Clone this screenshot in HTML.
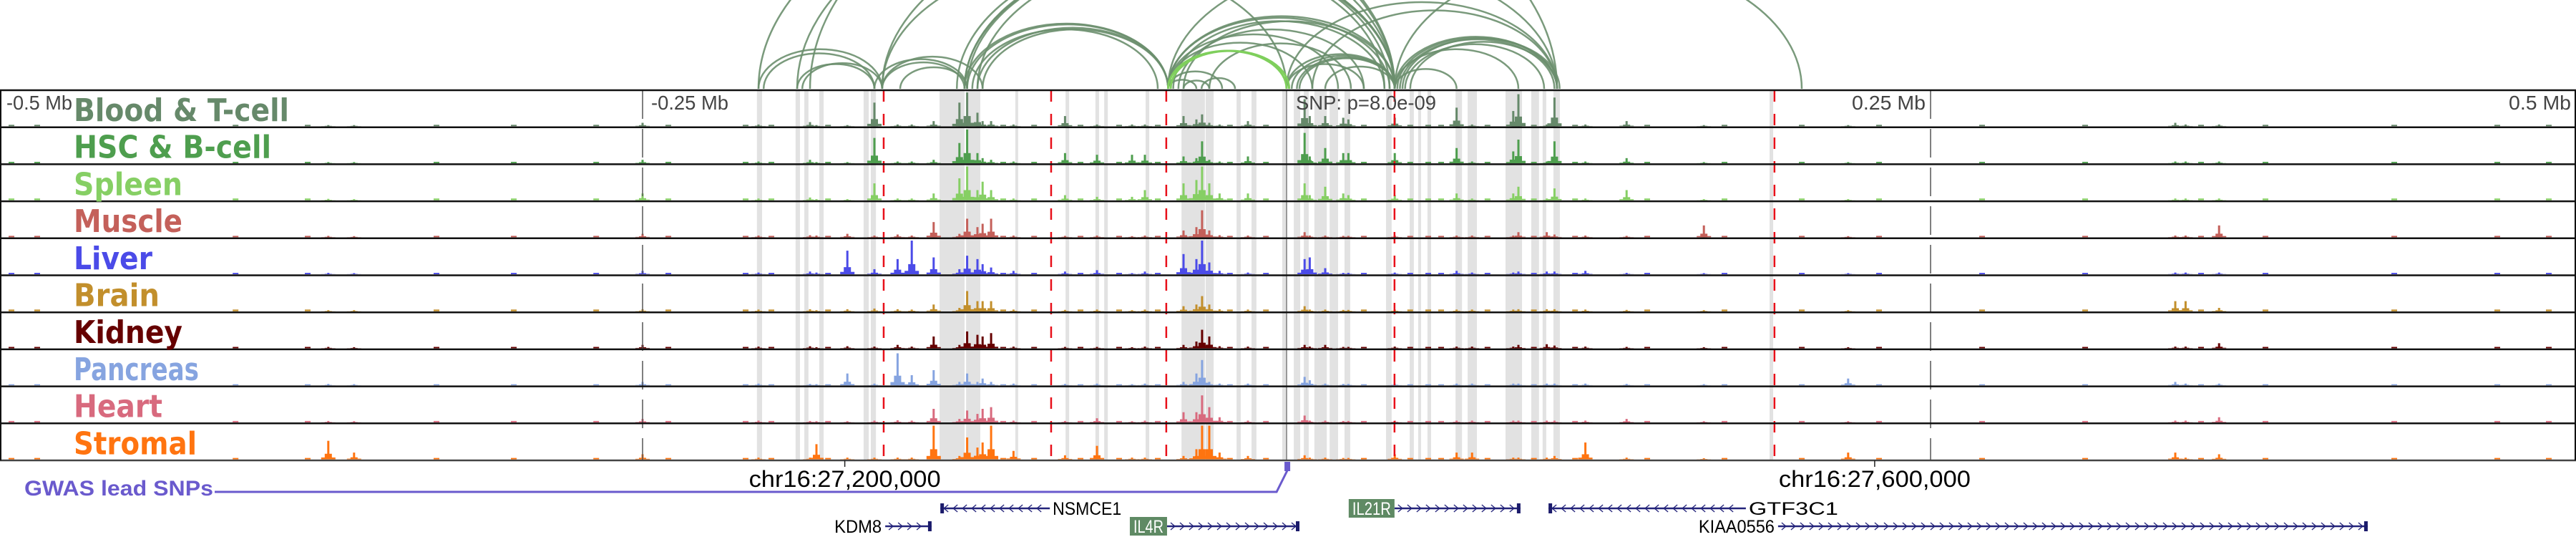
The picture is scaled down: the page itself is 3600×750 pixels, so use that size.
<!DOCTYPE html>
<html><head><meta charset="utf-8"><style>
html,body{margin:0;padding:0;background:#fff;}
svg{display:block;}
text{font-family:"Liberation Sans","DejaVu Sans",sans-serif;}
</style></head><body>
<svg id="chart" width="3600" height="750" viewBox="0 0 3600 750" xmlns="http://www.w3.org/2000/svg">
<defs><clipPath id="arcclip"><rect x="0" y="0" width="3600" height="125"/></clipPath></defs>
<g id="arcs" clip-path="url(#arcclip)"></g>
<g id="bands"></g>
<g id="signals"></g>
<g id="frame"></g>
<g id="labels"></g>
<g id="axis"></g>
<g id="genes"></g>
</svg>
<script>
const trackNames=["Blood & T-cell","HSC & B-cell","Spleen","Muscle","Liver","Brain","Kidney","Pancreas","Heart","Stromal"];
const trackColors=["#66896a","#4e9e4e","#86cf64","#c4605a","#4b4be8","#c28f2c","#660000","#86a4e0","#d86a7e","#ff7410"];
const labelWidths=[301,276,152,152,110,120,152,175,124,172];
const peakPos=[-372,-362,-250,-205,-185,-182.5,-170.5,-160,-151,-145.5,-137,-127,-124,-120,-118,-114.7,-106,-86,-73.6,-60,-55,-40,-35,-32.8,-30,-26,-15,7,9,15,22,24,42,66,72,88,90,101,104,116,132,162,218,345,349,362];
const peakVals=[
[0.02,0.02,0.04,0.04,0.04,0.03,0.04,0.04,0.04,0.55],
[0.03,0.03,0.03,0.03,0.03,0.03,0.03,0.03,0.03,0.2],
[0.1,0.1,0.2,0.1,0.1,0.06,0.1,0.1,0.1,0.15],
[0.05,0.05,0.05,0.05,0.05,0.05,0.05,0.05,0.05,0.05],
[0.12,0.1,0.08,0.06,0.08,0.06,0.06,0.04,0.04,0.05],
[0.03,0.03,0.03,0.05,0.05,0.03,0.03,0.03,0.03,0.45],
[0.03,0.03,0.03,0.1,0.7,0.06,0.06,0.35,0.03,0.05],
[0.7,0.75,0.5,0.05,0.15,0.08,0.05,0.05,0.05,0.05],
[0.05,0.05,0.05,0.08,0.45,0.06,0.1,0.95,0.06,0.05],
[0.05,0.05,0.05,0.05,1.0,0.05,0.05,0.3,0.05,0.05],
[0.15,0.1,0.2,0.45,0.5,0.2,0.35,0.45,0.4,1.0],
[0.7,0.6,0.65,0.1,0.15,0.1,0.1,0.1,0.1,0.1],
[1.0,1.0,1.0,0.55,0.55,0.6,0.5,0.35,0.35,0.65],
[0.4,0.3,0.3,0.3,0.45,0.3,0.4,0.1,0.25,0.35],
[0.15,0.15,0.55,0.4,0.3,0.3,0.35,0.2,0.4,0.5],
[0.15,0.1,0.3,0.55,0.2,0.3,0.45,0.1,0.45,1.0],
[0.05,0.05,0.05,0.05,0.1,0.05,0.05,0.05,0.05,0.25],
[0.3,0.3,0.15,0.04,0.08,0.04,0.04,0.04,0.04,0.12],
[0.05,0.25,0.1,0.05,0.12,0.05,0.04,0.05,0.12,0.4],
[0.05,0.25,0.1,0.03,0.03,0.03,0.03,0.03,0.03,0.05],
[0.05,0.25,0.3,0.05,0.08,0.05,0.05,0.05,0.05,0.05],
[0.3,0.2,0.5,0.2,0.6,0.15,0.1,0.1,0.3,0.1],
[0.2,0.15,0.6,0.3,0.45,0.2,0.2,0.35,0.3,0.3],
[0.35,0.65,1.0,0.8,1.0,0.45,0.55,0.75,0.8,1.0],
[0.1,0.1,0.5,0.2,0.35,0.2,0.35,0.1,0.45,1.0],
[0.05,0.05,0.2,0.06,0.1,0.06,0.06,0.05,0.15,0.2],
[0.15,0.2,0.2,0.05,0.05,0.05,0.05,0.05,0.05,0.1],
[0.8,0.9,0.5,0.15,0.45,0.15,0.1,0.25,0.2,0.12],
[0.3,0.2,0.15,0.05,0.5,0.05,0.05,0.15,0.05,0.05],
[0.3,0.45,0.4,0.05,0.18,0.05,0.1,0.05,0.05,0.05],
[0.25,0.3,0.2,0.04,0.04,0.04,0.04,0.04,0.04,0.04],
[0.2,0.3,0.15,0.04,0.04,0.04,0.04,0.04,0.04,0.04],
[0.25,0.3,0.15,0.05,0.05,0.05,0.05,0.05,0.05,0.15],
[0.55,0.45,0.2,0.05,0.1,0.05,0.05,0.05,0.05,0.2],
[0.05,0.05,0.05,0.05,0.05,0.05,0.05,0.05,0.05,0.2],
[0.45,0.35,0.2,0.05,0.05,0.05,0.05,0.05,0.05,0.05],
[0.95,0.7,0.4,0.15,0.08,0.06,0.1,0.05,0.05,0.05],
[0.05,0.05,0.05,0.15,0.08,0.06,0.12,0.05,0.05,0.05],
[0.85,0.65,0.35,0.08,0.08,0.06,0.08,0.05,0.05,0.1],
[0.05,0.05,0.05,0.05,0.1,0.05,0.05,0.05,0.05,0.5],
[0.15,0.15,0.3,0.04,0.04,0.04,0.04,0.04,0.1,0.05],
[0.03,0.03,0.03,0.35,0.03,0.03,0.03,0.03,0.03,0.03],
[0.03,0.03,0.03,0.03,0.03,0.03,0.03,0.2,0.03,0.2],
[0.1,0.05,0.05,0.05,0.05,0.3,0.05,0.1,0.05,0.2],
[0.05,0.05,0.05,0.05,0.05,0.3,0.05,0.05,0.05,0.05],
[0.05,0.05,0.05,0.35,0.05,0.1,0.15,0.05,0.15,0.15]];
const bgPos=[-495,-485,-408,-380,-330,-300,-268,-240,-210,-200,-178,-110,-98,-80,-65,-50,-22,-8,30,48,55,60,78,96,112,140,170,200,230,270,310,355,380,430,470,490];
const bgLevel=[0.04,0.04,0.05,0.04,0.04,0.05,0.04,0.03,0.04,0.04];
const bandStart=[-205.6,-190.6,-187.2,-181.4,-164.2,-161.4,-134.7,-124.4,-105.3,-85.8,-74.2,-70.8,-54.7,-40.8,-31.4,-19.4,-13.6,-1.7,2.8,6.7,10.8,16.7,22.5,38.6,47.8,51.1,54.7,65.6,70.3,85,95,99.4,103.6,187.5];
const bandEnd=[-203.6,-188.9,-185.6,-179.7,-162.2,-159.4,-125,-118.9,-104.2,-84.4,-72.8,-69.4,-53.3,-31.7,-28.3,-17.8,-11.7,-0.3,5.3,8.6,15.6,20,24.7,40.8,49.4,52.2,56.1,68.1,73.9,91.4,98,100.8,106.1,188.9];
const snpKb=[-156.4,-91.4,-46.7,41.9,189.4];
const tickKb=[-500,-250,0,250,500];
const tickLabels=["-0.5 Mb","-0.25 Mb","SNP: p=8.0e-09","0.25 Mb","0.5 Mb"];
const arcStart=[-205,-203,-190,-188,-205,-190,-185,-157,-160,-157,-150,-157,-157,-125,-124,-120,-128,-125,-125,-124,-120,-118,-46,-46,-40,-46,-46,-46,-46,-46,-40,-33,0,2,4,0,5,15,0,10,42,43,44,45,42,42,48,42,-122,-44,-42,-30,46];
const arcEnd=[-157,-160,-160,-157,42,42,105,-125,-124,-118,-124,0,42,42,42,42,40,38,-46,-46,-46,-46,42,40,42,105,10,20,-35,-25,-30,-20,42,42,42,30,42,42,105,105,105,105,104,106,90,66,105,200,-50,38,30,25,100];
const hiArcStart=[-46,-45];
const hiArcEnd=[0,1];
const geneNames=["NSMCE1","KDM8","IL4R","IL21R","GTF3C1","KIAA0556"];
const geneStart=[-134.4,-155.8,-46.4,41.9,101.7,190.8];
const geneEnd=[-91.9,-137.8,5,90.8,178.3,419.7];
const geneStrand=[-1,1,1,1,-1,1];
const geneRow=[0,1,1,0,0,1];
const coordLabels=["chr16:27,200,000","chr16:27,600,000"];
const coordKb=[-171.5,228.3];
const gwasKb=[0.3];

const NS="http://www.w3.org/2000/svg";
const X=kb=>1798+kb*3.6;
const TOP=126,ROWH=51.7,NT=10,ARCBASE=124;
function mk(tag,attrs,parent){const e=document.createElementNS(NS,tag);for(const k in attrs)e.setAttribute(k,attrs[k]);parent.appendChild(e);return e;}
const gArcs=document.getElementById('arcs'),gBands=document.getElementById('bands'),gSig=document.getElementById('signals'),gFrame=document.getElementById('frame'),gLab=document.getElementById('labels'),gAxis=document.getElementById('axis'),gGenes=document.getElementById('genes');
function arcPath(a,b){const x1=X(Math.min(a,b)),x2=X(Math.max(a,b)),rx=(x2-x1)/2,ry=(x2-x1)*0.32;return `M${x1},${ARCBASE} A${rx},${ry} 0 0 1 ${x2},${ARCBASE}`;}
for(let i=0;i<arcStart.length;i++){
  const p=mk('path',{d:arcPath(arcStart[i],arcEnd[i]),fill:'none',stroke:'#6b8f6e','stroke-width':2.5,'stroke-opacity':0.9},gArcs);
  
  
}
for(let i=0;i<hiArcStart.length;i++){
  const p=mk('path',{d:arcPath(hiArcStart[i],hiArcEnd[i]),fill:'none',stroke:'#7fcf5c','stroke-width':3},gArcs);
  
  
}
for(let i=0;i<bandStart.length;i++){
  const r=mk('rect',{x:X(bandStart[i]),y:TOP,width:Math.max(2,X(bandEnd[i])-X(bandStart[i])),height:ROWH*NT,fill:'#e2e2e2'},gBands);
  
  
}
for(let t=0;t<NT;t++){
  const base=TOP+(t+1)*ROWH-1.5, H=47;
  const g=mk('g',{},gSig);
  
  
  for(let j=0;j<bgPos.length;j++){
    const h=bgLevel[t]*H;
    mk('rect',{x:X(bgPos[j])-4,y:base-h,width:8,height:h,fill:trackColors[t]},g);
  }
  for(let j=0;j<peakPos.length;j++){
    const v=peakVals[j][t], h=Math.max(1.5,v*H), x=X(peakPos[j]);
    mk('rect',{x:x-1.5,y:base-h,width:3,height:h,fill:trackColors[t]},g);
    mk('rect',{x:x-5,y:base-h*0.3,width:10,height:h*0.3,fill:trackColors[t]},g);
    mk('rect',{x:x-10,y:base-h*0.1,width:20,height:h*0.1,fill:trackColors[t]},g);
  }
}
for(let i=0;i<tickKb.length;i++){
  if(i===0||i===4)continue;
  const l=mk('line',{x1:X(tickKb[i]),x2:X(tickKb[i]),y1:TOP,y2:TOP+ROWH*NT,stroke:i===2?'#777':'#555','stroke-width':1.5,'stroke-dasharray':i===2?'none':'40 14'},gFrame);
  
  
}
for(let i=0;i<snpKb.length;i++){
  const l=mk('line',{x1:X(snpKb[i]),x2:X(snpKb[i]),y1:TOP,y2:TOP+ROWH*NT,stroke:'#e8101a','stroke-width':2.5,'stroke-dasharray':'16 17'},gFrame);
  
  
}
for(let t=0;t<=NT;t++){
  const y=TOP+t*ROWH;
  mk('line',{x1:0,x2:3600,y1:y,y2:y,stroke:t===NT?'#444':'#111','stroke-width':2.5},gFrame);
}
mk('line',{x1:1,x2:1,y1:TOP,y2:TOP+ROWH*NT,stroke:'#111','stroke-width':2},gFrame);
mk('line',{x1:3599,x2:3599,y1:TOP,y2:TOP+ROWH*NT,stroke:'#111','stroke-width':2},gFrame);
for(let t=0;t<NT;t++){
  const tx=mk('text',{x:103,y:TOP+t*ROWH+43,'font-size':44,'font-weight':'bold',fill:trackColors[t],textLength:labelWidths[t],lengthAdjust:'spacingAndGlyphs',style:'font-family:"DejaVu Sans",sans-serif'},gLab);
  tx.textContent=trackNames[t];
  
  
}
const tickTextX=[9,910,1811,2588,3506],tickTextW=[92,108,196,103,87];
for(let i=0;i<tickLabels.length;i++){
  const tx=mk('text',{x:tickTextX[i],y:153,'font-size':28,fill:'#444',textLength:tickTextW[i],lengthAdjust:'spacingAndGlyphs'},gAxis);
  tx.textContent=tickLabels[i];
  
  
}
for(let i=0;i<coordKb.length;i++){
  const x=X(coordKb[i]);
  mk('line',{x1:x,x2:x,y1:643,y2:652,stroke:'#222','stroke-width':1.5},gAxis);
  const tx=mk('text',{x:x,y:680,'font-size':32,fill:'#000','text-anchor':'middle',textLength:268,lengthAdjust:'spacingAndGlyphs'},gAxis);
  tx.textContent=coordLabels[i];
  
  
}
const gw=mk('text',{x:34,y:692,'font-size':30,'font-weight':'bold',fill:'#6a5acd',textLength:264,lengthAdjust:'spacingAndGlyphs'},gAxis);
gw.textContent='GWAS lead SNPs';


for(let i=0;i<gwasKb.length;i++){
  const x=X(gwasKb[i]);
  mk('polyline',{points:`300,687 ${x-15},687 ${x},657`,fill:'none',stroke:'#6a5acd','stroke-width':3},gAxis);
  const m=mk('rect',{x:x-4,y:645,width:8,height:13,fill:'#6a5acd'},gAxis);
  
  
}
const rowY=[710,735];
for(let i=0;i<geneNames.length;i++){
  const g=mk('g',{},gGenes);
  
  
  const x1=X(geneStart[i]),x2=X(geneEnd[i]),y=rowY[geneRow[i]];
  mk('line',{x1:x1,x2:x2,y1:y,y2:y,stroke:'#23237a','stroke-width':2.5},g);
  const endX=geneStrand[i]>0?x2-5:x1;
  mk('rect',{x:endX,y:y-7,width:5,height:14,fill:'#1b1b6b'},g);
  for(let cx=x1+8;cx<x2-8;cx+=13){
    const d=geneStrand[i]>0?`M${cx-3},${y-5} L${cx+3},${y} L${cx-3},${y+5}`:`M${cx+3},${y-5} L${cx-3},${y} L${cx+3},${y+5}`;
    mk('path',{d:d,fill:'none',stroke:'#23237a','stroke-width':1.3},g);
  }
  const name=geneNames[i];
  if(name==='IL4R'||name==='IL21R'){
    const w=name==='IL4R'?52:64;
    mk('rect',{x:x1-w,y:y-13,width:w,height:26,fill:'#5f8a64'},g);
    const t=mk('text',{x:x1-w/2,y:y+9,'font-size':25,fill:'#fff','text-anchor':'middle',textLength:w-10,lengthAdjust:'spacingAndGlyphs'},g);
    t.textContent=name;
  } else {
    const lw={NSMCE1:96,KDM8:66,GTF3C1:125,KIAA0556:106}[name];
    const left=(name==='KDM8'||name==='KIAA0556');
    const t=mk('text',{x:left?x1-5:x2+4,y:y+9,'font-size':25,fill:'#000','text-anchor':left?'end':'start',textLength:lw,lengthAdjust:'spacingAndGlyphs'},g);
    t.textContent=name;
  }
}
</script>
</body></html>
